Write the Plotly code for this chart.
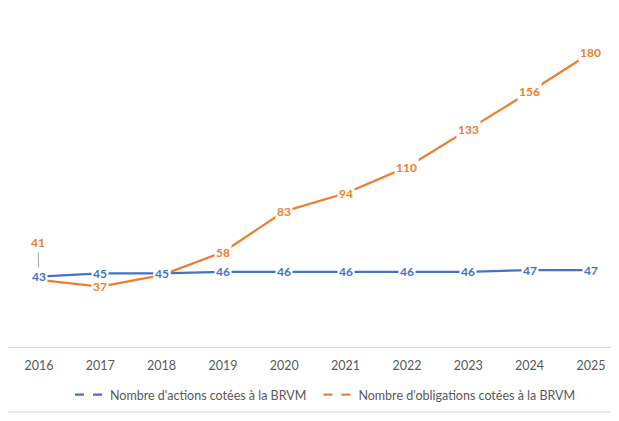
import plotly.graph_objects as go

years = [2016, 2017, 2018, 2019, 2020, 2021, 2022, 2023, 2024, 2025]
actions = [43, 45, 45, 46, 46, 46, 46, 46, 47, 47]
obligations = [41, 37, 44, 58, 83, 94, 110, 133, 156, 180]
name_actions = "Nombre d'actions cotées à la BRVM"
name_oblig = "Nombre d'obligations cotées à la BRVM"

BLUE = "#4472C4"
ORANGE = "#ED7D31"
GRAY = "#595959"
FONT = "Lato"
LABEL_SIZE = 12

fig = go.Figure()
fig.add_trace(go.Scatter(x=years, y=actions, mode="lines", line=dict(color=BLUE, width=2.25),
                         showlegend=False, hoverinfo="skip"))
fig.add_trace(go.Scatter(x=years, y=obligations, mode="lines", line=dict(color=ORANGE, width=2.25),
                         showlegend=False, hoverinfo="skip"))
# legend-only entries (Excel draws the legend sample with a gap)
fig.add_trace(go.Scatter(x=[None], y=[None], mode="lines", name=name_actions, legend="legend",
                         line=dict(color=BLUE, width=2.25, dash="dash")))
fig.add_trace(go.Scatter(x=[None], y=[None], mode="lines", name=name_oblig, legend="legend2",
                         line=dict(color=ORANGE, width=2.25, dash="dash")))

annotations = []
for i, (x, y) in enumerate(zip(years, obligations)):
    if i == 0:
        annotations.append(dict(x=x, y=y, text=str(y), showarrow=True, ax=-1, ay=-37,
                                arrowhead=0, arrowwidth=1, arrowcolor="#A6A6A6",
                                font=dict(family=FONT, size=LABEL_SIZE, color=ORANGE, weight="bold"),
                                bgcolor="white", borderpad=1))
    else:
        annotations.append(dict(x=x, y=y, text=str(y), showarrow=False,
                                font=dict(family=FONT, size=LABEL_SIZE, color=ORANGE, weight="bold"),
                                bgcolor="white", borderpad=1))
for x, y in zip(years, actions):
    annotations.append(dict(x=x, y=y, text=str(y), showarrow=False,
                            font=dict(family=FONT, size=LABEL_SIZE, color=BLUE, weight="bold"),
                            bgcolor="white", borderpad=1))

legend_style = dict(orientation="h", xanchor="left", y=-0.147, yanchor="middle",
                    font=dict(family=FONT, size=12.5, color=GRAY), itemwidth=30,
                    bgcolor="rgba(0,0,0,0)")

fig.update_layout(
    width=611, height=413,
    margin=dict(l=0, r=0, t=12, b=74),
    paper_bgcolor="white", plot_bgcolor="white",
    font=dict(family=FONT, color=GRAY),
    xaxis=dict(range=[2015.495, 2025.458], tickvals=years, ticktext=[str(y) for y in years],
               showgrid=False, zeroline=False, showline=True, linecolor="#D9D9D9", linewidth=1,
               ticks="", tickfont=dict(family=FONT, size=12.5, color=GRAY), ticklabelstandoff=7),
    yaxis=dict(range=[0, 200], showgrid=False, zeroline=False, showticklabels=False, showline=False),
    legend=dict(x=0.1015, **legend_style),
    legend2=dict(x=0.508, **legend_style),
    annotations=annotations,
    shapes=[
        dict(type="line", xref="paper", yref="paper", x0=-0.02, x1=1.02, y0=1.049, y1=1.049,
             line=dict(color="#D9D9D9", width=1)),
        dict(type="line", xref="paper", yref="paper", x0=-0.02, x1=1.02, y0=-0.199, y1=-0.199,
             line=dict(color="#D9D9D9", width=1)),
    ],
)
fig.write_html("out.html")
